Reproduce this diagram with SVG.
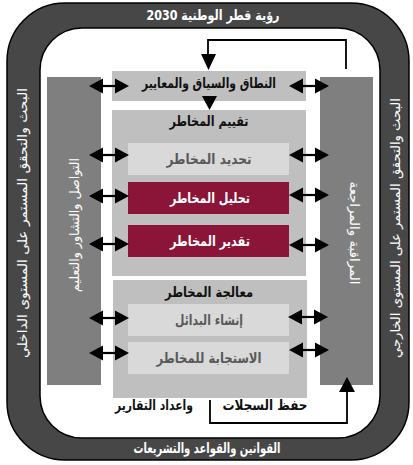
<svg xmlns="http://www.w3.org/2000/svg" width="413" height="465" viewBox="0 0 413 465">
<style>
text{font-family:"DejaVu Sans","Noto Sans",sans-serif;text-anchor:middle;direction:rtl;unicode-bidi:embed}
.band{fill:#fff;font-size:13px}
.bandb{fill:#fff;font-size:14px;font-weight:bold}
.hd{fill:#111;font-size:14px;font-weight:bold}
.lt{fill:#595959;font-size:14px;font-weight:bold}
.wt{fill:#fff;font-size:14px;font-weight:bold}
.pn{fill:#fff;font-size:13px}
.box{fill:#bfbfbf}
.sub{fill:#d9d9d9}
.mar{fill:#8a1538}
.side{fill:#7f7f7f}
.ln{fill:none;stroke:#000;stroke-width:1.8}
</style>
<defs>
<g id="dbl">
<line x1="-8" y1="0" x2="8" y2="0" stroke="#000" stroke-width="2.2"/>
<polygon points="-20,0 -6,-7.5 -6,7.5" fill="#000"/>
<polygon points="20,0 6,-7.5 6,7.5" fill="#000"/>
</g>
</defs>
<g id="frame">
<rect x="7" y="3" width="402" height="457" rx="58" fill="#474747" stroke="#000" stroke-width="1.5"/>
<rect x="40" y="28" width="340" height="410" rx="42" fill="#fff" stroke="#000" stroke-width="1.5"/>
<text class="bandb" x="213" y="20" textLength="133" lengthAdjust="spacingAndGlyphs">رؤية قطر الوطنية 2030</text>
<text class="bandb" x="207" y="453" textLength="147" lengthAdjust="spacingAndGlyphs">القوانين والقواعد والتشريعات</text>
<text class="band" transform="translate(23,223) rotate(-90)" y="4" textLength="270" lengthAdjust="spacingAndGlyphs">البحث والتحقق المستمر على المستوى الداخلي</text>
<text class="band" transform="translate(396,228) rotate(-90)" y="4" textLength="260" lengthAdjust="spacingAndGlyphs">البحث والتحقق المستمر على المستوى الخارجي</text>
</g>
<g id="comm">
<rect class="side" x="47" y="77" width="54" height="308"/>
<text class="pn" transform="translate(75,225) rotate(-90)" y="4" textLength="134" lengthAdjust="spacingAndGlyphs">التواصل والتشاور والتعليم</text>
</g>
<g id="monitor">
<rect class="side" x="320" y="77" width="53" height="308"/>
<text class="pn" transform="translate(354,233) rotate(90)" y="4" textLength="103" lengthAdjust="spacingAndGlyphs">المراقبة والمراجعة</text>
</g>
<g id="scope">
<rect class="box" x="112" y="71" width="194" height="30"/>
<text class="hd" x="209" y="87.5" textLength="134" lengthAdjust="spacingAndGlyphs">النطاق والسياق والمعايير</text>
</g>
<g id="assess">
<rect class="box" x="112" y="110" width="194" height="166"/>
<text class="hd" x="209" y="126" textLength="79" lengthAdjust="spacingAndGlyphs">تقييم المخاطر</text>
</g>
<g id="identify">
<rect class="sub" x="128" y="143" width="161" height="32"/>
<text class="lt" x="209" y="164" textLength="85" lengthAdjust="spacingAndGlyphs">تحديد المخاطر</text>
</g>
<g id="analyze">
<rect class="mar" x="128" y="182" width="161" height="32"/>
<text class="wt" x="210" y="203" textLength="80" lengthAdjust="spacingAndGlyphs">تحليل المخاطر</text>
</g>
<g id="evaluate">
<rect class="mar" x="128" y="225" width="161" height="32"/>
<text class="wt" x="210" y="246" textLength="80" lengthAdjust="spacingAndGlyphs">تقدير المخاطر</text>
</g>
<g id="treat">
<rect class="box" x="113" y="280" width="194" height="118"/>
<text class="hd" x="209" y="297" textLength="88" lengthAdjust="spacingAndGlyphs">معالجة المخاطر</text>
</g>
<g id="options">
<rect class="sub" x="128" y="304" width="161" height="32"/>
<text class="lt" x="209" y="325" textLength="68" lengthAdjust="spacingAndGlyphs">إنشاء البدائل</text>
</g>
<g id="response">
<rect class="sub" x="128" y="342" width="161" height="32"/>
<text class="lt" x="209" y="363" textLength="105" lengthAdjust="spacingAndGlyphs">الاستجابة للمخاطر</text>
</g>
<g id="records">
<text class="hd" x="265" y="410" textLength="85" lengthAdjust="spacingAndGlyphs">حفظ السجلات</text>
<text class="hd" x="154" y="410" textLength="78" lengthAdjust="spacingAndGlyphs">واعداد التقارير</text>
</g>
<g id="connectors">
<polyline class="ln" points="346,69 346,40 208,40 208,56"/>
<polygon points="201,54 216,54 208.5,70" fill="#000"/>
<polygon points="202,96 217,96 209.5,110" fill="#000"/>
<polyline class="ln" points="210,400 210,423 347,423 347,390"/>
<polygon points="339,392 355,392 347,377" fill="#000"/>
<use href="#dbl" x="109" y="86"/>
<use href="#dbl" x="309" y="86"/>
<use href="#dbl" x="109" y="155"/>
<use href="#dbl" x="309" y="155"/>
<use href="#dbl" x="109" y="196"/>
<use href="#dbl" x="309" y="195"/>
<use href="#dbl" x="109" y="244"/>
<use href="#dbl" x="309" y="245"/>
<use href="#dbl" x="109" y="318"/>
<use href="#dbl" x="308" y="317"/>
<use href="#dbl" x="109" y="353"/>
<use href="#dbl" x="309" y="350"/>
</g>
</svg>
